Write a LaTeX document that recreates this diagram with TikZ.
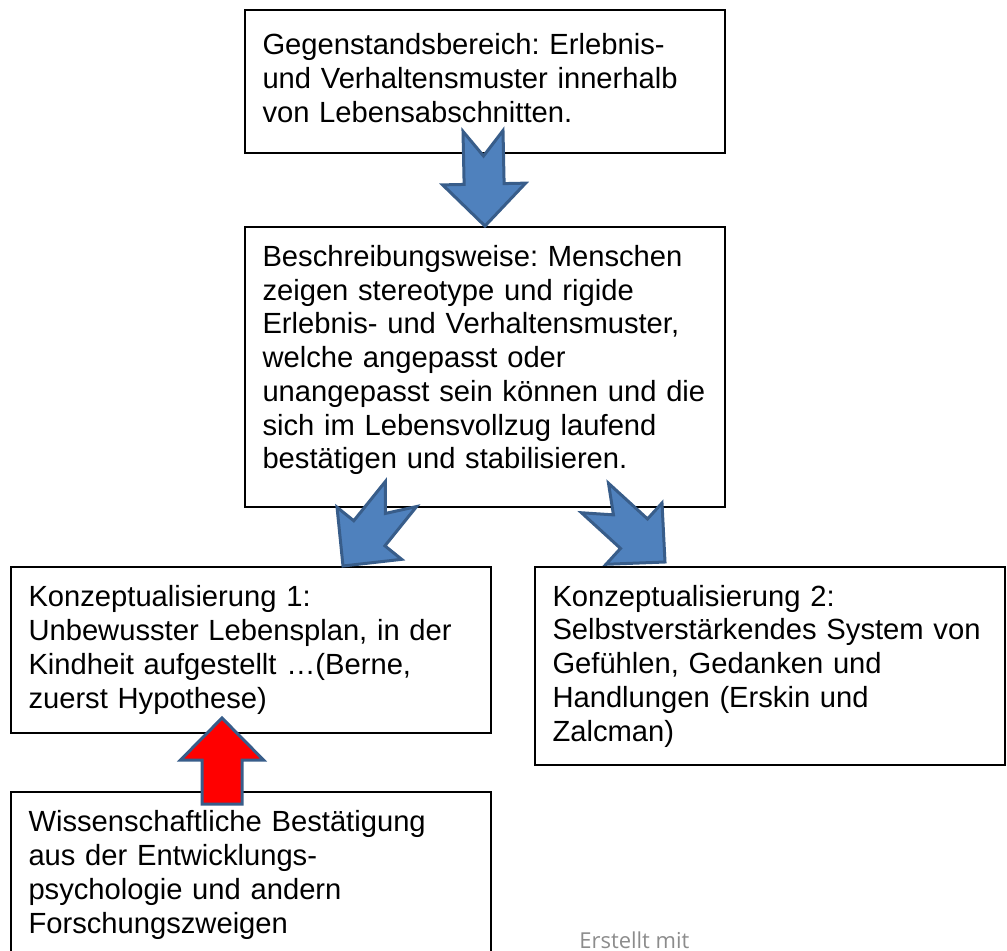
\documentclass[tikz,border=0pt]{standalone}
\usepackage{fontspec}
\setmainfont{Liberation Sans}
\newfontfamily\notefont{Open Sans}
\usetikzlibrary{calc}
\definecolor{arrowblue}{HTML}{4F81BD}
\definecolor{arrowline}{HTML}{385D8A}
\newcommand{\blockarrow}[4]{%
\coordinate (h) at ($(#3)!0.84cm!(#2)$);
\draw[#1] ($(#2)!0.4cm!90:(#3)$) -- ($(h)!0.4cm!90:(#3)$) -- ($(h)!0.83cm!90:(#3)$)
    -- (#3) -- ($(h)!0.83cm!-90:(#3)$) -- ($(h)!0.4cm!-90:(#3)$)
    -- ($(#2)!0.4cm!-90:(#3)$) -- ($(#2)!#4!(#3)$) -- cycle;}

\begin{document}
\begin{tikzpicture}[
    font=\fontsize{16.6pt}{19.2pt}\selectfont\frenchspacing,
    box/.style={draw, line width=0.04cm, fill=white, align=left, inner xsep=0.35cm,
        text width=8.9cm, minimum width=9.6cm},
    bluearrow/.style={draw=arrowline, fill=arrowblue, line width=0.06cm, line join=miter},
    redarrow/.style={bluearrow, fill=red}
]
\useasboundingbox (0,0) rectangle (20.14,-19.02);

% Boxes
\node[box, minimum height=2.86cm] (topic) at (9.70,-1.63) {Gegenstandsbereich: Erlebnis-\\
und Verhaltensmuster innerhalb\\
von Lebensabschnitten.\rule[-0.15cm]{0pt}{0pt}};

\node[box, minimum height=5.6cm] (desc) at (9.70,-7.34) {Beschreibungsweise: Menschen\\
zeigen stereotype und rigide\\
Erlebnis- und Verhaltensmuster,\\
welche angepasst oder\\
unangepasst sein können und die\\
sich im Lebensvollzug laufend\\
bestätigen und stabilisieren.\rule[-0.4cm]{0pt}{0pt}};

\node[box, minimum height=3.32cm] (kon1) at (5.02,-13.00) {Konzeptualisierung 1:\\
Unbewusster Lebensplan, in der\\
Kindheit aufgestellt …(Berne,\\
zuerst Hypothese)};

\node[box, minimum height=3.96cm, minimum width=9.4cm, text width=8.7cm] (kon2) at (15.40,-13.32) {Konzeptualisierung 2:\\
Selbstverstärkendes System von\\
Gefühlen, Gedanken und\\
Handlungen (Erskin und\\
Zalcman)};

\node[box, minimum height=3.32cm] (wiss) at (5.02,-17.50) {Wissenschaftliche Bestätigung\\
aus der Entwicklungs-\\
psychologie und andern\\
Forschungszweigen};

% Note
\node[font=\notefont\fontsize{12.5pt}{15pt}\selectfont, text=black!45, anchor=base west,
    inner sep=0pt] (credit) at (11.58,-18.96) {Erstellt mit};

% Arrows
\coordinate (topicToDescA) at ($(topic.south)+(-0.04,0.46)$);
\blockarrow{bluearrow}{topicToDescA}{desc.north}{0.5cm}

\coordinate (descToKonA) at ($(desc.south)+(-1.68,0.28)$);
\coordinate (descToKonB) at ($(kon1.north)+(1.84,0)$);
\blockarrow{bluearrow}{descToKonA}{descToKonB}{0.5cm}

\coordinate (descToKonC) at ($(desc.south)+(2.20,0.20)$);
\coordinate (descToKonD) at ($(kon2.north)+(-2.10,0.08)$);
\blockarrow{bluearrow}{descToKonC}{descToKonD}{0.5cm}

\coordinate (wissToKonA) at ($(wiss.north)+(-0.58,-0.26)$);
\coordinate (wissToKonB) at ($(kon1.south)+(-0.58,0.32)$);
\blockarrow{redarrow}{wissToKonA}{wissToKonB}{0cm}

\end{tikzpicture}
\end{document}
